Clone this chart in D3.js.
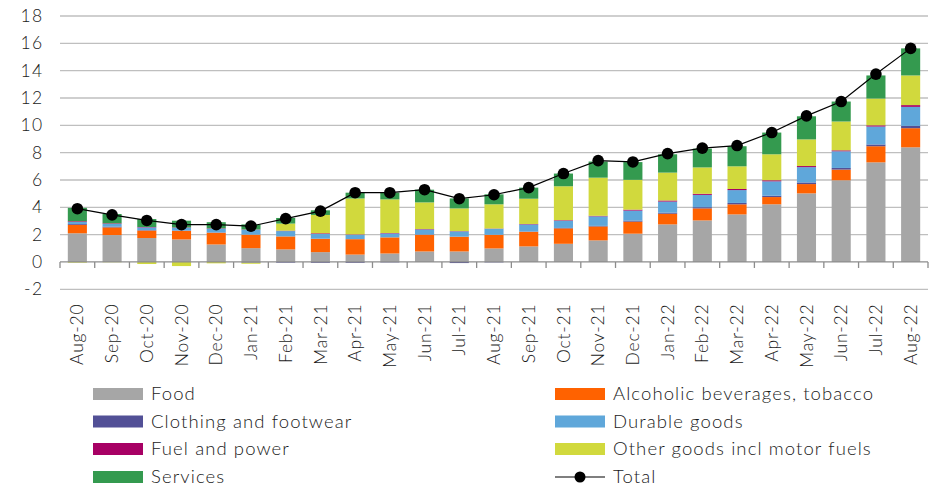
<!DOCTYPE html>
<html><head><meta charset="utf-8">
<script src="https://cdn.jsdelivr.net/npm/d3@7"></script>
<style>body{margin:0;background:#fff}svg{display:block}text{font-family:Lato,"Open Sans",sans-serif;font-weight:300;fill:#1a1a1a}</style>
</head><body><svg id="c" width="952" height="492"></svg>
<script>
const months = ["Aug-20","Sep-20","Oct-20","Nov-20","Dec-20","Jan-21","Feb-21","Mar-21","Apr-21","May-21","Jun-21","Jul-21","Aug-21","Sep-21","Oct-21","Nov-21","Dec-21","Jan-22","Feb-22","Mar-22","Apr-22","May-22","Jun-22","Jul-22","Aug-22"];
const food      = [2.10,1.97,1.75,1.65,1.28,1.01,0.92,0.72,0.54,0.62,0.77,0.77,0.99,1.14,1.33,1.58,2.07,2.75,3.04,3.48,4.22,5.02,5.98,7.29,8.39];
const alcohol   = [0.62,0.56,0.55,0.63,0.86,0.99,0.95,0.98,1.13,1.18,1.22,1.08,1.00,1.07,1.13,1.02,0.88,0.78,0.88,0.74,0.53,0.68,0.78,1.18,1.40];
const clothing  = [0.06,0.06,0.03,0.02,0.02,-0.05,-0.05,-0.06,-0.06,-0.03,0.02,-0.08,-0.03,0.02,0.03,0.04,0.08,0.08,0.09,0.10,0.10,0.12,0.12,0.13,0.17];
const durables  = [0.15,0.20,0.20,0.20,0.27,0.36,0.39,0.35,0.32,0.29,0.37,0.39,0.44,0.52,0.53,0.70,0.73,0.81,0.90,0.94,1.05,1.12,1.22,1.31,1.39];
const fuel      = [0.05,0.04,0.03,0.03,0.03,0.02,0.03,0.05,0.03,0.03,0.03,0.02,0.02,0.03,0.04,0.04,0.07,0.08,0.08,0.08,0.08,0.08,0.07,0.09,0.13];
const other     = [-0.05,-0.02,-0.15,-0.30,-0.10,-0.08,0.52,1.34,2.63,2.46,1.95,1.66,1.77,1.85,2.48,2.79,2.18,2.04,1.93,1.66,1.90,1.95,2.11,1.96,2.17];
const services  = [0.98,0.68,0.58,0.49,0.45,0.37,0.41,0.34,0.42,0.49,0.93,0.73,0.73,0.81,0.93,1.18,1.30,1.34,1.37,1.47,1.59,1.69,1.46,1.69,1.98];
const total     = [3.90,3.45,3.04,2.73,2.73,2.62,3.17,3.72,5.07,5.07,5.29,4.63,4.92,5.44,6.47,7.42,7.32,7.93,8.33,8.52,9.47,10.69,11.74,13.75,15.63];
const yTicks = [-2,0,2,4,6,8,10,12,14,16,18];

const seriesNames = ["Food","Alcoholic beverages, tobacco","Clothing and footwear","Durable goods","Fuel and power","Other goods incl motor fuels","Services"];
const seriesVals = [food,alcohol,clothing,durables,fuel,other,services];
const colors = ["#a6a6a6","#ff6200","#525096","#5fa7da","#a70064","#d1d93d","#349a4f"];

const rows = months.map((m,i)=>{const r={month:m}; seriesNames.forEach((s,j)=>r[s]=seriesVals[j][i]); return r;});

const svg = d3.select("#c");
const plotL=60, plotR=928;
const x = d3.scaleBand().domain(months).range([plotL,plotR]).paddingInner(0.45).paddingOuter(0.225);
const y = d3.scaleLinear().domain([-2,18]).range([289.3,16]);

svg.append("g").selectAll("line").data(yTicks.filter(d=>d!==0)).join("line")
  .attr("x1",plotL).attr("x2",plotR).attr("y1",d=>y(d)).attr("y2",d=>y(d))
  .attr("stroke","#bfbfbf").attr("stroke-width",1.3);

svg.append("g").selectAll("text").data(yTicks).join("text")
  .attr("x",43.5).attr("y",d=>y(d)).attr("dy","0.35em").attr("text-anchor","end")
  .attr("font-size",17.5).attr("letter-spacing","1.4px").text(d=>d);

const stack = d3.stack().keys(seriesNames).offset(d3.stackOffsetDiverging);
const stacked = stack(rows);
svg.append("g").selectAll("g").data(stacked).join("g").attr("fill",(d,i)=>colors[i])
  .selectAll("rect").data(d=>d).join("rect")
  .attr("x",d=>x(d.data.month)).attr("width",x.bandwidth())
  .attr("y",d=>y(Math.max(d[0],d[1]))).attr("height",d=>Math.abs(y(d[0])-y(d[1])));

const ax = svg.append("g");
ax.append("line").attr("x1",plotL).attr("x2",plotR).attr("y1",y(0)).attr("y2",y(0)).attr("stroke","#8c8c8c").attr("stroke-width",1.3);
const tickXs = months.map(m=>x(m)-x.step()*x.paddingInner()/2).concat([plotR]);
ax.selectAll("line.t").data(tickXs).join("line").attr("class","t")
  .attr("x1",d=>d).attr("x2",d=>d).attr("y1",y(0)).attr("y2",y(0)+6).attr("stroke","#8c8c8c").attr("stroke-width",1.3);

svg.append("g").selectAll("text").data(months).join("text")
  .attr("transform",d=>`translate(${x(d)+x.bandwidth()/2},303.5) rotate(-90)`)
  .attr("text-anchor","end").attr("dy","0.35em").attr("font-size",17.5).attr("letter-spacing","0.8px").text(d=>d);

const line = d3.line().x((d,i)=>x(months[i])+x.bandwidth()/2).y(d=>y(d));
svg.append("path").datum(total).attr("d",line).attr("fill","none").attr("stroke","#000").attr("stroke-width",1.2);
svg.append("g").selectAll("circle").data(total).join("circle")
  .attr("cx",(d,i)=>x(months[i])+x.bandwidth()/2).attr("cy",d=>y(d)).attr("r",5.8).attr("fill","#000");

const leg = svg.append("g");
const legItems = [
  {name:"Food",c:colors[0],col:0,row:0},
  {name:"Alcoholic beverages, tobacco",c:colors[1],col:1,row:0},
  {name:"Clothing and footwear",c:colors[2],col:0,row:1},
  {name:"Durable goods",c:colors[3],col:1,row:1},
  {name:"Fuel and power",c:colors[4],col:0,row:2},
  {name:"Other goods incl motor fuels",c:colors[5],col:1,row:2},
  {name:"Services",c:colors[6],col:0,row:3},
  {name:"Total",c:"#000",col:1,row:3,line:true}
];
const colX=[93,555], rowY=[394,421.5,449,477];
legItems.forEach(it=>{
  const gx=colX[it.col], gy=rowY[it.row];
  if(it.line){
    leg.append("line").attr("x1",gx).attr("x2",gx+50).attr("y1",gy).attr("y2",gy).attr("stroke","#000").attr("stroke-width",1.2);
    leg.append("circle").attr("cx",gx+25).attr("cy",gy).attr("r",5.5).attr("fill","#000");
  } else {
    leg.append("rect").attr("x",gx).attr("y",gy-6).attr("width",50).attr("height",12).attr("fill",it.c);
  }
  leg.append("text").attr("x",gx+58).attr("y",gy).attr("dy","0.35em").attr("font-size",18.5).attr("letter-spacing","1.1px").text(it.name);
});
</script></body></html>
